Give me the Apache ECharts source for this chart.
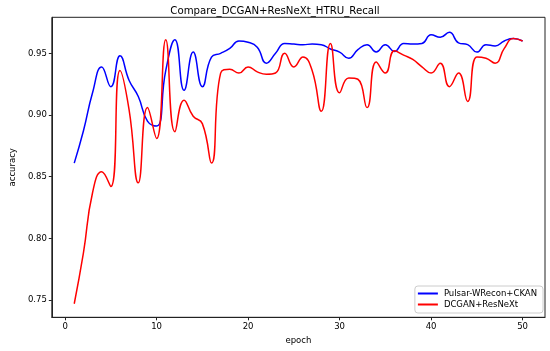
<!DOCTYPE html>
<html>
<head>
<meta charset="utf-8">
<script src="https://cdn.jsdelivr.net/npm/echarts@6/dist/echarts.min.js"></script>
<style>html,body{margin:0;padding:0;background:#fff}#c{width:550px;height:351px}</style>
</head>
<body>
<div id="c"></div>
<script>
var title = 'Compare_DCGAN+ResNeXt_HTRU_Recall';
var seriesNames = ['Pulsar-WRecon+CKAN', 'DCGAN+ResNeXt'];
var epochs = [];
for (var i = 1; i <= 50; i++) epochs.push(i);
var blueValues = [0.861,0.887,0.918,0.939,0.923,0.948,0.928,0.915,0.895,0.891,
  0.936,0.961,0.920,0.951,0.923,0.947,0.950,0.954,0.960,0.959,
  0.955,0.942,0.950,0.958,0.9575,0.957,0.9575,0.957,0.9535,0.951,
  0.946,0.953,0.957,0.951,0.957,0.9515,0.958,0.9575,0.958,0.965,
  0.963,0.967,0.9585,0.957,0.951,0.957,0.956,0.960,0.962,0.960];
var redValues = [0.747,0.788,0.837,0.854,0.842,0.936,0.904,0.845,0.906,0.881,
  0.961,0.8865,0.912,0.899,0.893,0.861,0.934,0.937,0.934,0.939,
  0.935,0.933,0.934,0.950,0.939,0.947,0.936,0.903,0.958,0.918,
  0.930,0.929,0.906,0.943,0.934,0.952,0.9485,0.945,0.939,0.934,
  0.942,0.923,0.934,0.911,0.947,0.946,0.942,0.954,0.962,0.960];
var xTicks = [0, 10, 20, 30, 40, 50];
var yTicks = [0.75, 0.80, 0.85, 0.90, 0.95];
var xName = 'epoch';
var yName = 'accuracy';

function pairs(vals) { return epochs.map(function (e, i) { return [e, vals[i]]; }); }

var font = 'DejaVu Sans';
var chart = echarts.init(document.getElementById('c'), null, {renderer: 'canvas'});
chart.setOption({
  animation: false,
  backgroundColor: '#fff',
  title: {
    text: title, left: 'center', top: 1,
    textStyle: {fontFamily: font, fontSize: 10.2, fontWeight: 'normal', color: '#000'}
  },
  grid: {left: 40.7, right: 5, top: 17.3, bottom: 33.7, show: true, borderColor: '#222', borderWidth: 1, backgroundColor: 'transparent'},
  xAxis: {
    type: 'value', min: -1.45, max: 52.45,
    name: xName, nameLocation: 'middle', nameGap: 18,
    nameTextStyle: {fontFamily: font, fontSize: 8.5, color: '#000'},
    axisLine: {show: true, onZero: false, lineStyle: {color: '#222', width: 1}},
    axisTick: {show: true, length: 3, customValues: xTicks, lineStyle: {color: '#222'}},
    axisLabel: {customValues: xTicks, fontFamily: font, fontSize: 8.5, color: '#000', margin: 5},
    splitLine: {show: false}
  },
  yAxis: {
    type: 'value', min: 0.736, max: 0.9792,
    name: yName, nameLocation: 'middle', nameGap: 29,
    nameTextStyle: {fontFamily: font, fontSize: 8.5, color: '#000'},
    axisLine: {show: true, onZero: false, lineStyle: {color: '#222', width: 1}},
    axisTick: {show: true, length: 3, customValues: yTicks, lineStyle: {color: '#222'}},
    axisLabel: {customValues: yTicks, fontFamily: font, fontSize: 8.5, color: '#000', margin: 5,
      formatter: function (v) { return v.toFixed(2); }},
    splitLine: {show: false}
  },
  legend: {
    orient: 'vertical', right: 7, bottom: 38,
    backgroundColor: 'rgba(255,255,255,0.8)', borderColor: '#ccc', borderWidth: 1, borderRadius: 3,
    padding: [3, 6, 4, 3], itemGap: 2, itemWidth: 20, itemHeight: 2, icon: 'rect',
    textStyle: {fontFamily: font, fontSize: 8.5, color: '#000', padding: [0, 0, 0, 1]},
    data: seriesNames
  },
  series: [
    {name: seriesNames[0], type: 'line', data: pairs(blueValues), smooth: 0.5, showSymbol: false, symbol: 'none',
      itemStyle: {color: '#0000ff'}, lineStyle: {color: '#0000ff', width: 1.5}, z: 3},
    {name: seriesNames[1], type: 'line', data: pairs(redValues), smooth: 0.5, showSymbol: false, symbol: 'none',
      itemStyle: {color: '#ff0000'}, lineStyle: {color: '#ff0000', width: 1.5}, z: 4}
  ]
});
</script>
</body>
</html>
